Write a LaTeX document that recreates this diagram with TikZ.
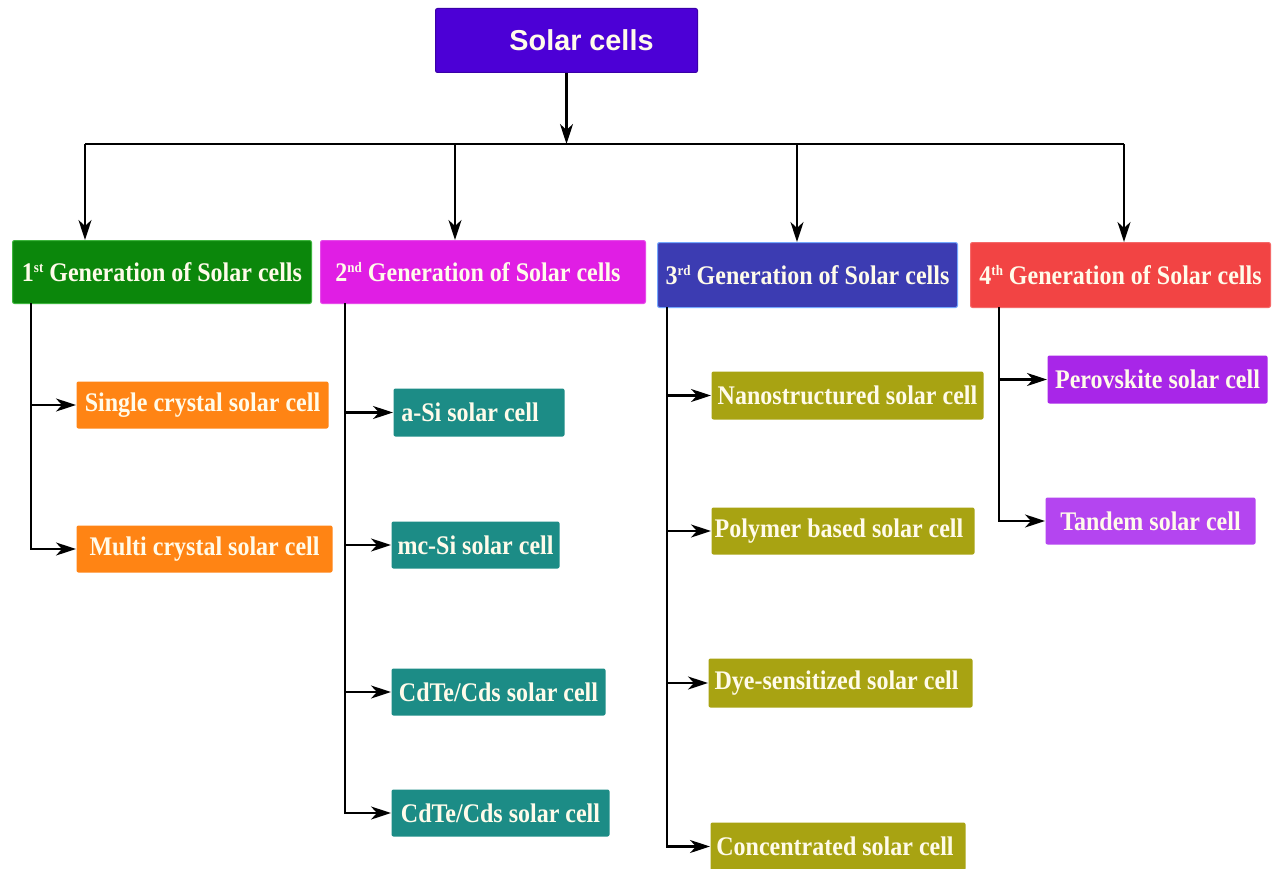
\documentclass[tikz,border=0pt]{standalone}
\usepackage{fontspec}
\usepackage{graphicx}
\setmainfont{Liberation Serif}
\newfontfamily\hfont{Liberation Sans}
\usetikzlibrary{arrows.meta,calc}
\definecolor{topc}{HTML}{4C00D6}
\definecolor{topb}{HTML}{3A00A8}
\definecolor{gone}{HTML}{0B870B}
\definecolor{goneb}{HTML}{3DB53D}
\definecolor{gtwo}{HTML}{E01EE4}
\definecolor{gthree}{HTML}{3C3CB2}
\definecolor{gthreeb}{HTML}{74A8FF}
\definecolor{gfour}{HTML}{F24444}
\definecolor{orc}{HTML}{FF8414}
\definecolor{tealc}{HTML}{1C8C86}
\definecolor{olc}{HTML}{A8A312}
\definecolor{purc}{HTML}{A826E8}
\definecolor{purd}{HTML}{B445F0}
\definecolor{txtc}{HTML}{FFFBEA}
\newcommand{\vst}[1]{\scalebox{1}[1.12]{#1}}
\newcommand{\sups}[1]{\raisebox{0.75ex}{\fontsize{13}{13}\selectfont #1}}
\tikzset{
  box/.style={rectangle, rounded corners=2pt, inner sep=0pt, anchor=north west,
    text=txtc, font=\fontsize{24}{28}\selectfont\bfseries, line width=1pt},
  arr/.style={draw=black, line width=2.3pt, -{Stealth[length=20pt,width=13pt,inset=6pt]}},
  ln/.style={draw=black, line width=2.3pt}
}
\begin{document}
\begin{tikzpicture}[x=1pt,y=-1pt]
\useasboundingbox[fill=white] (0,0) rectangle (1276,869);
% top
\node[box, fill=topc, draw=topb, minimum width=262, minimum height=64,
  font=\hfont\fontsize{28.8}{32}\selectfont\bfseries] (top) at (435,8) {\hspace*{30pt}Solar cells};
% generations
\node[box, fill=gone, draw=goneb, minimum width=299, minimum height=63] (g1) at (12,240)
  {\vst{1\sups{st} Generation of Solar cells}};
\node[box, fill=gtwo, draw=gtwo!80!white, minimum width=325, minimum height=63] (g2) at (320,240)
  {\vst{2\sups{nd} Generation of Solar cells}\hspace*{10pt}};
\node[box, fill=gthree, draw=gthreeb, minimum width=300, minimum height=65] (g3) at (657,242)
  {\vst{3\sups{rd} Generation of Solar cells}};
\node[box, fill=gfour, draw=gfour!80!white, minimum width=300, minimum height=65] (g4) at (970,242)
  {\vst{4\sups{th} Generation of Solar cells}};
% bus
\coordinate (bus) at (565,144);
\coordinate (b1) at (85,144);
\coordinate (b2) at (455,144);
\coordinate (b3) at (797,144);
\coordinate (b4) at (1124,144);
\draw[arr] (top.south) -- (top.south |- bus);
\draw[ln] (b1) -- (b4);
\draw[arr] (b1) -- (b1 |- g1.north);
\draw[arr] (b2) -- (b2 |- g2.north);
\draw[arr] (b3) -- (b3 |- g3.north);
\draw[arr] (b4) -- (b4 |- g4.north);
% children gen 1
\node[box, fill=orc, minimum width=252, minimum height=47] (c11) at (76,381) {\vst{Single crystal solar cell}};
\node[box, fill=orc, minimum width=256, minimum height=47] (c12) at (76,525) {\vst{Multi crystal solar cell}};
% children gen 2
\node[box, fill=tealc, minimum width=171, minimum height=48] (c21) at (393,388) {\vst{a-Si solar cell}\hspace*{18pt}};
\node[box, fill=tealc, minimum width=168, minimum height=47] (c22) at (391,521) {\vst{mc-Si solar cell}};
\node[box, fill=tealc, minimum width=214, minimum height=47] (c23) at (391,668) {\vst{CdTe/Cds solar cell}};
\node[box, fill=tealc, minimum width=218, minimum height=47] (c24) at (391,789) {\vst{CdTe/Cds solar cell}};
% children gen 3
\node[box, fill=olc, minimum width=272, minimum height=48] (c31) at (711,371) {\vst{Nanostructured solar cell}};
\node[box, fill=olc, minimum width=263, minimum height=47] (c32) at (711,507) {\vst{Polymer based solar cell}\hspace*{8pt}};
\node[box, fill=olc, minimum width=264, minimum height=49] (c33) at (708,658) {\vst{Dye-sensitized solar cell}\hspace*{8pt}};
\node[box, fill=olc, minimum width=255, minimum height=48] (c34) at (710,822) {\vst{Concentrated solar cell}\hspace*{6pt}};
% children gen 4
\node[box, fill=purc, minimum width=220, minimum height=48] (c41) at (1047,355) {\vst{Perovskite solar cell}};
\node[box, fill=purd, minimum width=210, minimum height=47] (c42) at (1045,497) {\vst{Tandem solar cell}};
% trunks
\coordinate (t1) at (31,303);
\coordinate (t2) at (345,303);
\coordinate (t3) at (667,307);
\coordinate (t4) at (999,307);
\draw[arr] (t1) |- (c11.west);
\draw[arr] (t1) |- (c12.west);
\draw[arr] (t2) |- (c21.west);
\draw[arr] (t2) |- (c22.west);
\draw[arr] (t2) |- (c23.west);
\draw[arr] (t2) |- (c24.west);
\draw[arr] (t3) |- (c31.west);
\draw[arr] (t3) |- (c32.west);
\draw[arr] (t3) |- (c33.west);
\draw[arr] (t3) |- (c34.west);
\draw[arr] (t4) |- (c41.west);
\draw[arr] (t4) |- (c42.west);
\end{tikzpicture}
\end{document}
